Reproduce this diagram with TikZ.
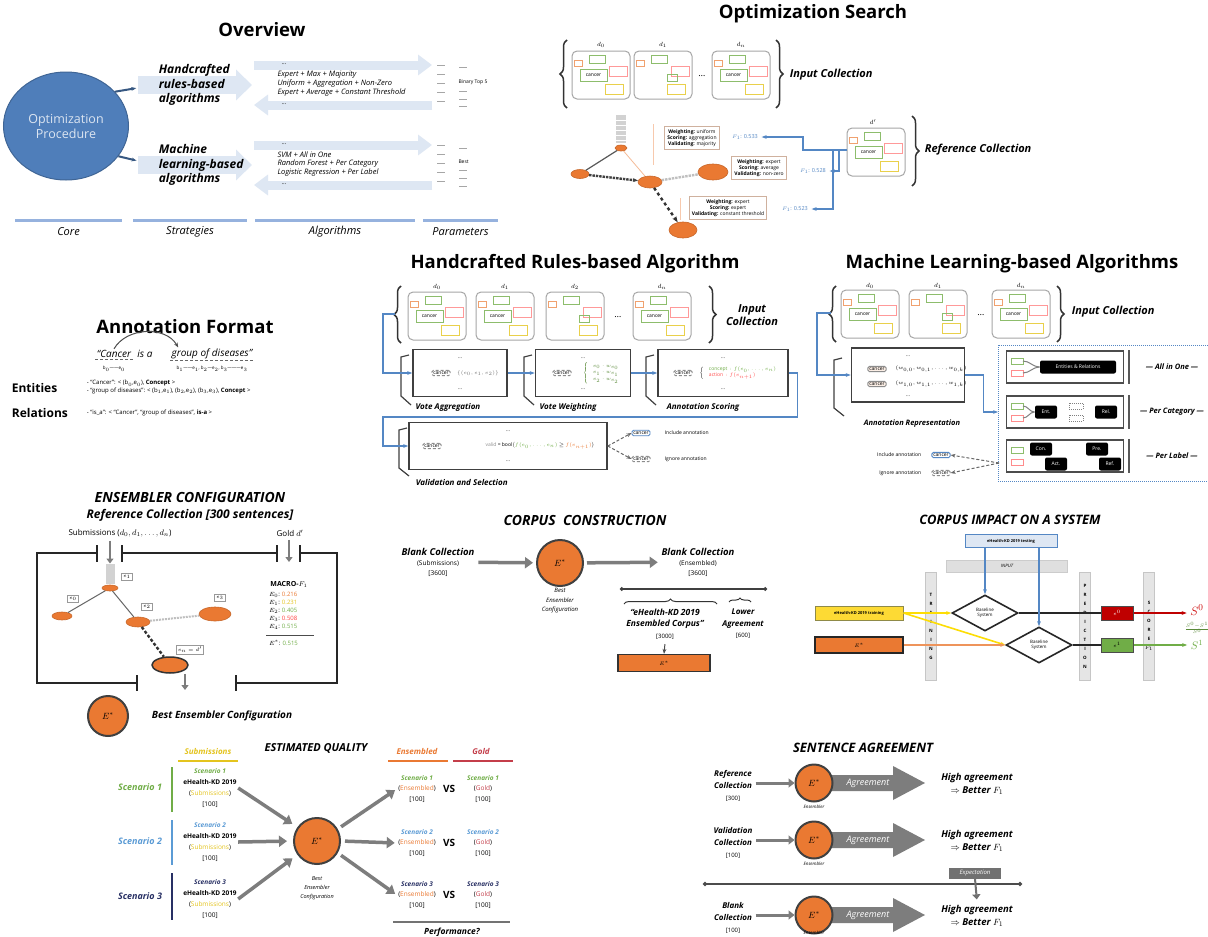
\documentclass[tikz,border=0pt]{standalone}
\usepackage{amsmath}
\usepackage{fontspec}
\setmainfont{Open Sans}
\usetikzlibrary{arrows.meta,shapes.geometric,decorations.pathreplacing,calc}

\definecolor{opblue}{RGB}{79,126,186}
\definecolor{paleblue}{RGB}{222,231,243}
\definecolor{linblue}{RGB}{150,178,222}
\definecolor{flow}{RGB}{84,135,196}
\definecolor{ens}{RGB}{234,121,50}
\definecolor{gar}{RGB}{125,125,125}
\definecolor{scgreen}{RGB}{112,173,71}
\definecolor{scblue}{RGB}{91,155,213}
\definecolor{scnavy}{RGB}{40,48,100}
\definecolor{subyel}{RGB}{228,196,30}
\definecolor{goldred}{RGB}{196,62,74}

\tikzset{
  ttl/.style={font=\fontsize{18.5}{20}\selectfont\bfseries},
  hd/.style={font=\fontsize{#1}{\fpeval{1.2*#1}}\selectfont\bfseries\itshape},
  it/.style={font=\fontsize{#1}{\fpeval{1.2*#1}}\selectfont\itshape},
  rg/.style={font=\fontsize{#1}{\fpeval{1.2*#1}}\selectfont},
  bd/.style={font=\fontsize{#1}{\fpeval{1.2*#1}}\selectfont\bfseries},
  stk/.style={align=center,font=\fontsize{#1}{\fpeval{#1+3.5}}\selectfont},
  stki/.style={align=center,font=\fontsize{#1}{\fpeval{#1+3.5}}\selectfont\itshape},
  cn/.style={draw=black!45,rounded corners=1.5pt,inner sep=1.3pt,font=\fontsize{5}{5}\selectfont},
  blk/.style={fill=black,text=white,rounded corners=2pt,font=\fontsize{5}{5}\selectfont,minimum height=13pt,inner sep=1pt},
  lab/.style={draw=black!40,fill=white,font=\fontsize{4.5}{4.5}\selectfont,inner sep=1.5pt},
  cfg/.style={draw=ens!45!gray!60,align=center,font=\fontsize{5}{6.2}\selectfont,inner sep=2.5pt},
  stg/.style={draw=black!75,line width=1.6pt,minimum height=47pt,inner sep=0pt},
  orn/.style={ellipse,fill=ens,draw=ens!85!black,line width=0.6pt,inner sep=0pt},
  estar/.style={circle,fill=ens,draw=black!75,line width=2pt,minimum size=#1,inner sep=0pt,font=\fontsize{9}{9}\selectfont},
  flw/.style={flow,line width=1.3pt},
  garr/.style={gar,line width=3.5pt,-{Triangle[length=8pt,width=11pt]}},
  brc/.style={decorate,decoration={brace,amplitude=#1},line width=1.5pt,black!80},
  fr/.style={black!85,line width=2.5pt},
  vbar/.style={fill=gray!20,draw=gray!45,minimum width=11pt,minimum height=108pt,align=center,font=\fontsize{4.5}{9}\selectfont\bfseries,inner sep=1pt},
  dia/.style={diamond,draw=black!85,line width=1.6pt,fill=white,minimum width=66pt,minimum height=36pt,inner sep=0pt,align=center,font=\fontsize{4.5}{5.5}\selectfont},
  docu/.pic={
    \draw[black!35,line width=1pt,rounded corners=5pt] (-29,-24) rectangle (29,24);
    \draw[ens!70,line width=0.8pt] (-27,-15) rectangle (-19,-9);
    \draw[scgreen!80,line width=0.8pt] (-12,-20) rectangle (4,-12);
    \draw[red!40,line width=0.8pt] (8,-9) rectangle (26,1);
    \draw[scgreen!80,line width=0.8pt] (-21,-6) rectangle (6,6);
    \draw[subyel!80,line width=0.8pt] (4,9) rectangle (22,19);
    \node[inner sep=0pt,font=\fontsize{5}{5}\selectfont] (-c) at (-7.5,0) {cancer};
  },
  docv/.pic={
    \draw[black!35,line width=1pt,rounded corners=5pt] (-29,-24) rectangle (29,24);
    \draw[ens!70,line width=0.8pt] (-27,-15) rectangle (-19,-9);
    \draw[scgreen!80,line width=0.8pt] (-12,-20) rectangle (4,-12);
    \draw[red!40,line width=0.8pt] (8,-9) rectangle (26,1);
    \draw[scgreen!80,line width=0.8pt] (4,-1) rectangle (14,6);
    \draw[subyel!80,line width=0.8pt] (4,9) rectangle (22,19);
  }
}

\begin{document}
\begin{tikzpicture}[x=1pt,y=-1pt,line width=1pt,>={Stealth[length=5pt]}]
  \useasboundingbox (0,0) rectangle (1208,937);
  \fill[white] (0,0) rectangle (1208,937);

  % overview
  \node[ttl] (ovT) at (262,30) {Overview};
  \foreach \yy in {65,145}{
    \draw[paleblue,line width=9pt,-{Triangle[length=14pt,width=20pt]}] (254,\yy) -- (432,\yy);
    \draw[paleblue,line width=9pt,-{Triangle[length=14pt,width=20pt]}] (432,\yy+40) -- (254,\yy+40);
    \draw[paleblue,line width=18pt,-{Triangle[length=16pt,width=30pt]}] (138,\yy+20) -- (252,\yy+20);
  }
  \node[ellipse,fill=opblue,draw=opblue!80!black,minimum width=125pt,minimum height=108pt,inner sep=0pt,
        align=center,text=white!80!opblue,font=\fontsize{12.5}{15}\selectfont] (core) at (66,126) {Optimization\\Procedure};
  \node[hd=12,align=left,anchor=west] (hrS) at (155,85) {Handcrafted\\rules-based\\algorithms};
  \node[hd=12,align=left,anchor=west] (mlS) at (155,165) {Machine\\learning-based\\algorithms};
  \draw[opblue!70!black,line width=2pt,->,shorten >=19pt] (core.35) -- (hrS.west);
  \draw[opblue!70!black,line width=2pt,->,shorten >=19pt] (core.-30) -- (mlS.west);
  \foreach \tx [count=\i] in {Expert + Max + Majority,Uniform + Aggregation + Non-Zero,Expert + Average + Constant Threshold}
    \node[it=7.5,anchor=west,inner sep=0pt] (ha\i) at (277,66+9*\i) {\tx};
  \foreach \tx [count=\i] in {SVM + All in One,Random Forest + Per Category,Logistic Regression + Per Label}
    \node[it=7.5,anchor=west,inner sep=0pt] (ma\i) at (277,146+9*\i) {\tx};
  \foreach \yy [count=\i] in {64,104,144,184}
    \node[rg=6,inner sep=0pt] (adt\i) at (284,\yy) {\dots};
  \foreach \yy in {65,74,83,92,101,145,154,163,172,181}
    \draw[black!35] (437,\yy) -- (445,\yy);
  \foreach \yy in {67,91,99,106,148,170,178,186}
    \draw[black!35] (459,\yy) -- (467,\yy);
  \node[rg=5,anchor=west,inner sep=0pt] (pBin) at (458,82) {Binary Top 5};
  \node[rg=5,anchor=west,inner sep=0pt] (pBest) at (458,162) {Best};
  \foreach \ta/\tb/\tx [count=\i] in {15/122/Core,133/247/Strategies,255/415/Algorithms,423/498/Parameters}{
    \draw[linblue,line width=3pt] (\ta,220) -- (\tb,220);
    \node[it=11] (col\i) at ({(\ta+\tb)/2},232) {\tx};
  }

  % busqueda de optimizacion
  \node[ttl] (osT) at (813,14) {Optimization Search};
  \draw[brc=7pt] (567,108) -- (567,40);
  \pic (o0) at (601,75) {docu};
  \pic (o1) at (663,75) {docv};
  \pic (o2) at (741,75) {docu};
  \node[rg=9] (odots) at (702,76) {\dots};
  \foreach \n/\x/\s in {0/601/0,1/663/1,2/741/n}
    \node[rg=6,inner sep=0pt] (od\n) at (\x,45) {$d_{\s}$};
  \draw[brc=7pt] (776,40) -- (776,108);
  \node[hd=11,anchor=west] (oinT) at (786,75) {Input Collection};
  \node[fill=gray!35,minimum width=10pt,minimum height=28pt,inner sep=0pt] (sCol) at (621,129) {};
  \foreach \yy in {120,125,...,140} \draw[white,line width=0.6pt] (616,\yy) -- (626,\yy);
  \node[orn,minimum width=12pt,minimum height=6pt] (sA) at (621,148) {};
  \node[orn,minimum width=18pt,minimum height=9pt] (sB) at (580,174) {};
  \node[orn,minimum width=24pt,minimum height=12pt] (sC) at (650,182) {};
  \node[orn,minimum width=30pt,minimum height=16pt] (sD) at (713,172) {};
  \node[orn,minimum width=28pt,minimum height=16pt] (sE) at (683,230) {};
  \draw[black!65,line width=1.2pt] (sA) -- (sB);
  \draw[ens!50,line width=0.8pt] (sA) -- (sC);
  \draw[black!75,line width=2.4pt,densely dotted,->] (sB) -- (sC);
  \draw[black!25,line width=2.4pt,densely dotted] (sC) -- (sD);
  \draw[black!80,line width=2.4pt,dashed,-{Stealth[length=6pt]}] (sC) -- (sE);
  \draw[ens!40] (653,124) -- (653,165);
  \draw[ens!40] (680,198) -- (680,220);
  \node[cfg] (cf1) at (692,138) {\textbf{Weighting:} uniform\\\textbf{Scoring:} aggregation\\\textbf{Validating:} majority};
  \node[cfg] (cf2) at (759,168) {\textbf{Weighting:} expert\\\textbf{Scoring:} average\\\textbf{Validating:} non-zero};
  \node[cfg] (cf3) at (728,208) {\textbf{Weighting:} expert\\\textbf{Scoring:} expert\\\textbf{Validating:} constant threshold};
  \node[rg=5.5,text=flow] (f1a) at (745,137) {$F_1$: 0.533};
  \node[rg=5.5,text=flow] (f1b) at (813,171) {$F_1$: 0.528};
  \node[rg=5.5,text=flow] (f1c) at (795,209) {$F_1$: 0.523};
  \pic (oR) at (876,152) {docu};
  \node[rg=6,inner sep=0pt] (odp) at (873,122) {$d'$};
  \coordinate (oRw) at (847,150);
  \draw[flw,->] (oRw) -- ++(-44,0) |- (f1a.east);
  \draw[flw,->] (oRw) -- ++(-8,0) |- (f1b.east);
  \draw[flw,->] (oRw) -- ++(-14,0) |- (f1c.east);
  \draw[brc=7pt] (912,116) -- (912,186);
  \node[hd=11,anchor=west] (oref) at (921,150) {Reference Collection};

  % formato de anotacion
  \node[ttl] (afT) at (185,327) {Annotation Format};
  \node[it=10,inner sep=1pt] (w1) at (114,354) {“Cancer};
  \node[it=10,inner sep=1pt] (w2) at (145,354) {is a};
  \node[it=10,inner sep=1pt] (w3) at (212,354) {group of diseases”};
  \draw[black!60,densely dashed] (w1.south west) -- (w1.south east);
  \draw[black!60,densely dashed] (w3.south west) -- (w3.south east);
  \draw[black!70,->] (w1.north) to[out=60,in=120] ($(w3.north west)+(8,0)$);
  \node[rg=4.5,inner sep=0pt] (bx0) at (114,369) {b$_0$——e$_0$};
  \node[rg=4.5,inner sep=0pt] (bx1) at (212,369) {b$_1$——e$_1$,\ b$_2$—e$_2$,\ b$_3$———e$_3$};
  \node[bd=12,anchor=west] (entL) at (8,388) {Entities};
  \node[bd=12,anchor=west] (relL) at (8,413) {Relations};
  \node[rg=6,anchor=west,align=left] (entV) at (83,387) {- “Cancer”: < (b$_0$,e$_0$), \textbf{Concept} >\\- “group of diseases”: < (b$_1$,e$_1$), (b$_2$,e$_2$), (b$_3$,e$_3$), \textbf{Concept} >};
  \node[rg=6,anchor=west] (relV) at (83,413) {- “is\_a”: < “Cancer”, “group of diseases”, \textbf{is-a} >};

  % algoritmo de reglas
  \node[ttl] (hrT) at (575,264) {Handcrafted Rules-based Algorithm};
  \draw[brc=7pt] (401,343) -- (401,286);
  \pic (h0) at (437,316) {docu};
  \pic (h1) at (505,316) {docu};
  \pic (h2) at (575,316) {docv};
  \pic (h3) at (662,316) {docu};
  \node[rg=9] (hdots) at (618,317) {\dots};
  \foreach \n/\x/\s in {0/437/0,1/505/1,2/575/2,3/662/n}
    \node[rg=6,inner sep=0pt] (hdoc\n) at (\x,287) {$d_{\s}$};
  \draw[brc=7pt] (709,286) -- (709,343);
  \node[hd=11,align=center] (hinT) at (752,315) {Input\\Collection};
  \node[stg,minimum width=94pt] (s1) at (460,373) {};
  \node[stg,minimum width=95pt] (s2) at (583,373) {};
  \node[stg,minimum width=130pt] (s3) at (723,373) {};
  \foreach \bx in {401,524,646}
    \draw[black!75,line width=1.2pt] (\bx+8,355) -- (\bx,357) -- (\bx,396) -- (\bx+10,405);
  \node[cn,densely dashed] (s1c) at (441,373) {cancer};
  \node[rg=5,text=black!55] (s1f) at (478,373) {$\{(e_0,e_1,e_2)\}$};
  \node[cn,densely dashed] (s2c) at (562,373) {cancer};
  \node[rg=5,text=scgreen!80!black] (s2f) at (604,373) {$\left\{\begin{array}{l}e_0\cdot w_{e_0}\\ e_1\cdot w_{e_1}\\ e_2\cdot w_{e_2}\end{array}\right.$};
  \node[cn,densely dashed] (s3c) at (683,373) {cancer};
  \node[rg=5] (s3f) at (741,373) {$\left\{\begin{array}{l}\textcolor{scgreen}{\mathrm{concept}: f(e_0,\ldots,e_n)}\\ \textcolor{red!70}{\mathrm{action}: f(e_{n+1})}\end{array}\right.$};
  \foreach \n/\x in {1/460,2/583,3/723}{
    \node[rg=5,inner sep=0pt] (su\n) at (\x,358) {\dots};
    \node[rg=5,inner sep=0pt] (sd\n) at (\x,389) {\dots};
  }
  \node[hd=8] (s1L) at (448,407) {Vote Aggregation};
  \node[hd=8] (s2L) at (568,407) {Vote Weighting};
  \node[hd=8] (s3L) at (703,407) {Annotation Scoring};
  \node[stg,minimum width=198pt] (s4) at (508,446) {};
  \draw[black!75,line width=1.2pt] (407,428) -- (399,430) -- (399,468) -- (409,476);
  \node[cn,densely dashed] (s4c) at (432,446) {cancer};
  \node[rg=5] (s4f) at (540,446) {\textcolor{black!45}{valid} = bool$\big($\textcolor{scgreen}{$f(e_0,\ldots,e_n)$}$\,\geq\,$\textcolor{ens}{$f(e_{n+1})$}$\big)$};
  \node[rg=5,inner sep=0pt] (s4u) at (508,431) {\dots};
  \node[rg=5,inner sep=0pt] (s4d) at (508,461) {\dots};
  \node[hd=8,anchor=west] (s4L) at (412,482) {Validation and Selection};
  \node[cn,draw=flow,line width=0.8pt] (inc) at (641,433) {cancer};
  \node[cn,densely dashed] (ign) at (641,459) {cancer};
  \node[rg=5,anchor=west] (incT) at (661,433) {Include annotation};
  \node[rg=5,anchor=west] (ignT) at (661,459) {Ignore annotation};
  \draw[black!60,densely dashed,->] (s4.east) -- (inc.west);
  \draw[black!60,densely dashed,->] (s4.east) -- (ign.west);
  \coordinate (hin) at (395,314);
  \draw[flw,->] (hin) -- (383,314) |- (s1.west);
  \draw[flw,->] (s1) -- (s2);
  \draw[flw,->] (s2) -- (s3);
  \draw[flw,->] (s3.east) -- ++(9,0) |- (383,417) |- (s4.west);

  % aprendizaje automatico
  \node[ttl] (mlT) at (1012,264) {Machine Learning-based Algorithms};
  \draw[brc=7pt] (836,342) -- (836,286);
  \pic (m0) at (870,314) {docu};
  \pic (m1) at (938,314) {docv};
  \pic (m2) at (1021,314) {docu};
  \node[rg=9] (mdots) at (981,315) {\dots};
  \foreach \n/\x/\s in {0/870/0,1/938/1,2/1021/n}
    \node[rg=6,inner sep=0pt] (mdoc\n) at (\x,286) {$d_{\s}$};
  \draw[brc=7pt] (1057,286) -- (1057,342);
  \node[hd=11,anchor=west] (minT) at (1068,312) {Input Collection};
  \node[stg,minimum width=113pt,minimum height=54pt] (ar) at (908,375) {};
  \draw[black!75,line width=1.2pt] (842,358) -- (834,360) -- (834,408) -- (844,416);
  \node[cn,fill=ens!12] (ar1) at (877,369) {cancer};
  \node[cn,fill=ens!12] (ar2) at (877,384) {cancer};
  \node[rg=5,inner sep=0pt] (ar1v) at (931,369) {$(w_{0,0},w_{0,1},\ldots,w_{0,k})$};
  \node[rg=5,inner sep=0pt] (ar2v) at (931,384) {$(w_{1,0},w_{1,1},\ldots,w_{1,k})$};
  \node[rg=5,inner sep=0pt] (aru) at (908,356) {\dots};
  \node[rg=5,inner sep=0pt] (ard) at (908,396) {\dots};
  \node[hd=7.5] (arL) at (912,424) {Annotation Representation};
  \coordinate (mIn) at (831,313);
  \draw[flw,->] (mIn) -- (817,313) |- (ar.west);
  \coordinate (mlin) at (998,412);
  \draw[flw,->] (ar.east) -- ++(18,0) |- (mlin);
  \draw[flow,densely dotted,line width=1pt] (998,345) rectangle (1214,481);
  \foreach \yy/\tx [count=\i] in {367/All in One,412/Per Category,456/Per Label}{
    \node[draw=black!70,line width=1.5pt,minimum width=117pt,minimum height=32pt,inner sep=0pt] (mb\i) at (1065,\yy) {};
    \draw[scgreen!80,line width=0.8pt] (1011,\yy-9) rectangle (1023,\yy-3);
    \draw[red!45,line width=0.8pt] (1011,\yy+3) rectangle (1023,\yy+9);
    \draw[black!65,line width=1.2pt] (1129,\yy-17) -- (1129,\yy+17);
    \node[hd=7.5] (mt\i) at (1172,\yy) {— \tx{} —};
  }
  \node[blk,minimum width=76pt] (mE) at (1078,367) {Entities \& Relations};
  \node[blk,minimum width=22pt] (mEnt) at (1046,412) {Ent.};
  \node[blk,minimum width=22pt] (mRel) at (1106,412) {Rel.};
  \draw[black!50,densely dotted] (1069,403) rectangle (1083,409);
  \draw[black!50,densely dotted] (1069,415) rectangle (1083,421);
  \node[blk,minimum width=22pt] (mCon) at (1041,449) {Con.};
  \node[blk,minimum width=22pt] (mAct) at (1056,464) {Act.};
  \node[blk,minimum width=22pt] (mPre) at (1097,449) {Pre.};
  \node[blk,minimum width=22pt] (mRef) at (1110,464) {Ref.};
  \draw[black!50] (1023,361) to[out=0,in=180] (mE.west);
  \draw[black!50] (1023,373) to[out=0,in=180] (mE.west);
  \draw[black!50] (1023,406) to[out=0,in=180] (mEnt.west);
  \draw[black!50] (1023,418) to[out=0,in=180] (mEnt.west);
  \node[cn,draw=flow] (minc) at (941,455) {cancer};
  \node[cn,densely dashed] (mign) at (941,473) {cancer};
  \node[rg=5,anchor=east] (mincT) at (925,455) {Include annotation};
  \node[rg=5,anchor=east] (mignT) at (925,473) {Ignore annotation};
  \coordinate (mlo) at (999,463);
  \draw[black!60,densely dashed,->] (mlo) -- (minc.east);
  \draw[black!60,densely dashed,->] (mlo) -- (mign.east);

  % configuracion del ensamblador
  \node[hd=14] (ecT) at (190,497) {ENSEMBLER CONFIGURATION};
  \node[hd=12] (ecS) at (190,515) {Reference Collection [300 sentences]};
  \node[rg=8] (ecSub) at (120,533) {Submissions ($d_0, d_1, \ldots, d_n$)};
  \node[rg=8] (ecGold) at (290,533) {Gold $d'$};
  \draw[fr] (97,553) -- (37,553) -- (37,683) -- (137,683);
  \draw[fr] (122,553) -- (277,553);
  \draw[fr] (300,553) -- (337,553) -- (337,683) -- (236,683);
  \foreach \tx in {97,122,277,300} \draw[fr] (\tx,545) -- (\tx,562);
  \foreach \tx in {137,236} \draw[fr] (\tx,675) -- (\tx,691);
  \node[fill=gray!35,minimum width=9pt,minimum height=20pt,inner sep=0pt] (eCol) at (110,574) {};
  \coordinate (gIn) at (289,562);
  \draw[gar,line width=2pt,-{Triangle[length=5pt,width=7pt]}] (ecSub.south -| eCol.north) -- (eCol.north);
  \draw[gar,line width=2pt,-{Triangle[length=5pt,width=7pt]}] (ecGold.south -| gIn) -- (gIn);
  \node[orn,minimum width=16pt,minimum height=6pt] (eA) at (110,588) {};
  \node[orn,minimum width=20pt,minimum height=8pt] (eB) at (62,616) {};
  \node[orn,minimum width=24pt,minimum height=10pt] (eC) at (138,622) {};
  \node[orn,minimum width=32pt,minimum height=14pt] (eD) at (215,614) {};
  \node[orn,minimum width=36pt,minimum height=16pt,draw=black!80,line width=1.5pt] (eE) at (170,665) {};
  \draw[black!60] (eA) -- (eB);
  \draw[black!60] (eA) -- (eC);
  \draw[black!25,line width=2pt,densely dotted] (eC) -- (eD);
  \draw[black!80,line width=2.4pt,densely dashed] (eC) -- (eE);
  \node[lab] (eLa) at (127,577) {$e_1$};
  \node[lab] (eLb) at (73,599) {$e_0$};
  \node[lab] (eLc) at (147,607) {$e_2$};
  \node[lab] (eLd) at (220,598) {$e_3$};
  \node[lab] (eLe) at (190,650) {$e_n=d'$};
  \node[bd=7] (mF) at (289,584) {MACRO-$F_1$};
  \foreach \cl/\v/\s [count=\i] in {ens/0.216/0,subyel/0.231/1,scgreen/0.405/2,red!75/0.508/3,scgreen/0.515/4}
    \node[rg=6,anchor=west,inner sep=0.5pt] (mv\i) at (268,587+8*\i) {$E_{\s}$: \textcolor{\cl}{\v}};
  \draw[black!70] (266,635) -- (314,635);
  \node[rg=6,anchor=west,inner sep=0.5pt] (mvs) at (268,643) {$E^*$: \textcolor{scgreen}{0.515}};
  \coordinate (eOut) at (185,690);
  \draw[gar,line width=2pt,-{Triangle[length=5pt,width=7pt]}] (eE.south -| eOut) -- (eOut);
  \node[estar=40pt] (eBest) at (108,716) {$E^*$};
  \node[hd=10,anchor=west] (eBestT) at (148,716) {Best Ensembler Configuration};

  % construccion del corpus
  \node[hd=14] (ccT) at (585,520) {CORPUS\ \ CONSTRUCTION};
  \node[stk=6.5] (bcA) at (438,562) {{\fontsize{9.5}{9.5}\selectfont\bfseries\itshape Blank Collection}\\(Submissions)\\{[3600]}};
  \node[estar=46pt] (cc) at (560,563) {$E^*$};
  \node[stk=6.5] (bcB) at (698,562) {{\fontsize{9.5}{9.5}\selectfont\bfseries\itshape Blank Collection}\\(Ensembled)\\{[3600]}};
  \draw[garr,shorten >=3pt] (bcA) -- (cc);
  \draw[garr,shorten <=3pt] (cc) -- (bcB);
  \node[stki=6] (ccL) at (560,601) {Best\\Ensembler\\Configuration};
  \draw[black!75,line width=1.5pt,{Circle[length=3.5pt]}-{Circle[length=3.5pt]}] (620,589) -- (767,589);
  \draw[brc=5pt,line width=1pt] (624,604) -- (717,604);
  \draw[brc=4pt,line width=1pt] (729,602) -- (751,602);
  \node[align=center,font=\fontsize{8.5}{11.5}\selectfont\bfseries\itshape] (cE) at (665,624) {“eHealth-KD 2019\\Ensembled Corpus”\\{\fontsize{6}{6}\selectfont\mdseries\upshape [3000]}};
  \node[align=center,font=\fontsize{8}{11.5}\selectfont\bfseries\itshape] (cL) at (743,624) {Lower\\Agreement\\{\fontsize{6}{6}\selectfont\mdseries\upshape [600]}};
  \node[fill=ens,draw=black!80,line width=1.2pt,minimum width=92pt,minimum height=17pt,inner sep=0pt,rg=5] (cBar) at (664,663) {$E^*$};
  \draw[black!70,->,shorten <=1pt] (cE.south) -- (cBar.north);

  % impacto en un sistema
  \node[hd=13] (ciT) at (1010,520) {CORPUS IMPACT ON A SYSTEM};
  \node[draw=flow,fill=paleblue,line width=1pt,minimum width=92pt,minimum height=13pt,inner sep=0pt,bd=4] (tst) at (1011,541) {eHealth-KD 2019 testing};
  \node[fill=gray!25,draw=gray!40,minimum width=121pt,minimum height=12pt,inner sep=0pt,it=4.5] (inp) at (1007,566) {INPUT};
  \node[vbar] (trn) at (931,626) {T\\R\\A\\I\\N\\I\\N\\G};
  \node[vbar] (prd) at (1085,626) {P\\R\\E\\D\\I\\C\\T\\I\\O\\N};
  \node[vbar] (scr) at (1149,626) {S\\C\\O\\R\\E\\$F_1$};
  \node[dia] (bs1) at (985,613) {Baseline\\System};
  \node[dia] (bs2) at (1039,645) {Baseline\\System};
  \node[fill=yellow!70!orange!80,draw=yellow!50!black,minimum width=88pt,minimum height=14pt,inner sep=0pt,bd=4] (trb) at (859,613) {eHealth-KD 2019 training};
  \node[fill=ens,draw=black!85,line width=1.5pt,minimum width=88pt,minimum height=16pt,inner sep=0pt,rg=5] (eb) at (859,645) {$E^*$};
  \node[fill=red!75!black,draw=black!70,minimum width=32pt,minimum height=14pt,inner sep=0pt,rg=4,text=white] (rb) at (1117,613) {$e^0$};
  \node[fill=scgreen,draw=black!70,minimum width=32pt,minimum height=14pt,inner sep=0pt,rg=4] (gb) at (1117,645) {$e^1$};
  \node[text=red!80!black,font=\fontsize{13}{13}\selectfont] (so0) at (1197,610) {$S^0$};
  \node[text=scgreen,font=\fontsize{11}{11}\selectfont] (so1) at (1197,645) {$S^1$};
  \node[text=scgreen!80!black,font=\fontsize{5}{5}\selectfont] (sfr) at (1197,628) {$\frac{S^0-S^1}{S^0}$};
  \draw[yellow!80!orange,line width=1.6pt,->] (trb.east) -- (bs1.west);
  \draw[yellow!80!orange,line width=1.6pt,->] (trb.east) -- (bs2.west);
  \draw[ens!80,line width=1.6pt,->] (eb.east) -- (bs2.west);
  \draw[black!85,line width=1.4pt] (bs1.east) -- (rb.west);
  \draw[black!85,line width=1.4pt] (bs2.east) -- (gb.west);
  \draw[red!75!black,line width=1.4pt,->] (rb.east) -- (so0.west |- rb.east);
  \draw[scgreen,line width=1.4pt,->] (gb.east) -- (so1.west);
  \draw[flow,line width=1.4pt,->] (tst.south -| bs1.north) -- (bs1.north);
  \draw[flow,line width=1.4pt,->] (tst.south -| bs2.north) -- (bs2.north);

  % calidad estimada
  \node[hd=11] (eqT) at (316,748) {ESTIMATED QUALITY};
  \node[hd=8,text=subyel] (hSub) at (208,751) {Submissions};
  \draw[subyel,line width=2.2pt] (178,761) -- (238,761);
  \node[hd=8,text=ens] (hEns) at (417,751) {Ensembled};
  \draw[ens,line width=2.2pt] (388,761) -- (448,761);
  \node[hd=8,text=goldred] (hGold) at (481,751) {Gold};
  \draw[goldred,line width=2.2pt] (453,761) -- (513,761);
  \foreach \cl/\yy/\ya/\yb [count=\i] in {scgreen/787/767/812,scblue/841/820/865,scnavy/896/873/920}{
    \node[hd=9,text=\cl] (sc\i) at (140,\yy) {Scenario \i};
    \draw[\cl,line width=2.5pt] (172,\ya) -- (172,\yb);
  }
  \foreach \cl/\yy [count=\i] in {scgreen/788,scblue/842,scnavy/899}
    \node[align=center,font=\fontsize{6.5}{11}\selectfont,inner sep=1pt] (sb\i) at (210,\yy) {{\bfseries\itshape\textcolor{\cl}{Scenario \i}}\\\textbf{eHealth-KD 2019}\\(\textcolor{subyel}{Submissions})\\{[100]}};
  \node[estar=46pt] (eq) at (317,841) {$E^*$};
  \node[stki=5.5] (eqL) at (317,888) {Best\\Ensembler\\Configuration};
  \draw[garr,shorten >=6pt] (sb1.east) -- (eq.145);
  \draw[garr,shorten >=6pt] (sb2.east) -- (eq.west);
  \draw[garr,shorten >=6pt] (sb3.east) -- (eq.215);
  \foreach \cl/\yy [count=\i] in {scgreen/789,scblue/843,scnavy/895}{
    \node[align=center,font=\fontsize{6.5}{10.5}\selectfont,inner sep=1pt] (en\i) at (417,\yy) {{\bfseries\itshape\textcolor{\cl}{Scenario \i}}\\(\textcolor{ens}{Ensembled})\\{[100]}};
    \node[bd=10,inner sep=0pt] (vs\i) at (449,\yy) {VS};
    \node[align=center,font=\fontsize{6.5}{10.5}\selectfont,inner sep=1pt] (gd\i) at (483,\yy) {{\bfseries\itshape\textcolor{\cl}{Scenario \i}}\\(\textcolor{goldred}{Gold})\\{[100]}};
  }
  \draw[garr,shorten <=4pt,shorten >=2pt] (eq.30) -- (en1.west);
  \draw[garr,shorten <=4pt,shorten >=2pt] (eq.east) -- (en2.west);
  \draw[garr,shorten <=4pt,shorten >=2pt] (eq.-30) -- (en3.west);
  \draw[black!55,line width=2.5pt] (393,922) -- (510,922);
  \node[hd=8.5] (perf) at (452,932) {Performance?};

  % acuerdo de oraciones
  \node[hd=13] (saT) at (863,748) {SENTENCE AGREEMENT};
  \foreach \yy/\ta/\tb/\ii/\ey in {783/Reference/300/1/807,840/Validation/100/2/864,915/Blank/100/3/933}{
    \fill[gar] (826,\yy-8) -- (893,\yy-8) -- (893,\yy-17) -- (925,\yy) -- (893,\yy+17) -- (893,\yy+8) -- (826,\yy+8) -- cycle;
    \node[align=center,font=\fontsize{8}{12}\selectfont\bfseries\itshape] (sl\ii) at (733,\yy+3) {\ta\\Collection\\{\fontsize{6}{6}\selectfont\mdseries\upshape[\tb]}};
    \node[estar=37pt] (se\ii) at (814,\yy) {$E^*$};
    \node[it=4.5,inner sep=0pt] (sen\ii) at (814,\ey) {Ensembler};
    \node[it=9,text=white] (sag\ii) at (868,\yy) {Agreement};
    \node[align=center,font=\fontsize{9.5}{13}\selectfont\bfseries\itshape] (sh\ii) at (977,\yy+1) {High agreement\\$\Rightarrow$ Better $F_1$};
    \draw[gar,line width=3pt,-{Triangle[length=6pt,width=9pt]}] (sl\ii.east |- se\ii) -- (se\ii.west);
  }
  \draw[black!70,line width=1.8pt,{Circle[length=4pt]}-{Circle[length=4pt]}] (703,884) -- (1022,884);
  \node[fill=gar!90!black,text=white,it=6,minimum width=52pt,minimum height=11pt,inner sep=1pt] (sexp) at (975,873) {Expectation};
  \draw[gar!90!black,line width=2pt,-{Triangle[length=5pt,width=8pt]},shorten >=2pt] (sexp.south) -- (sh3.north);
\end{tikzpicture}
\end{document}
